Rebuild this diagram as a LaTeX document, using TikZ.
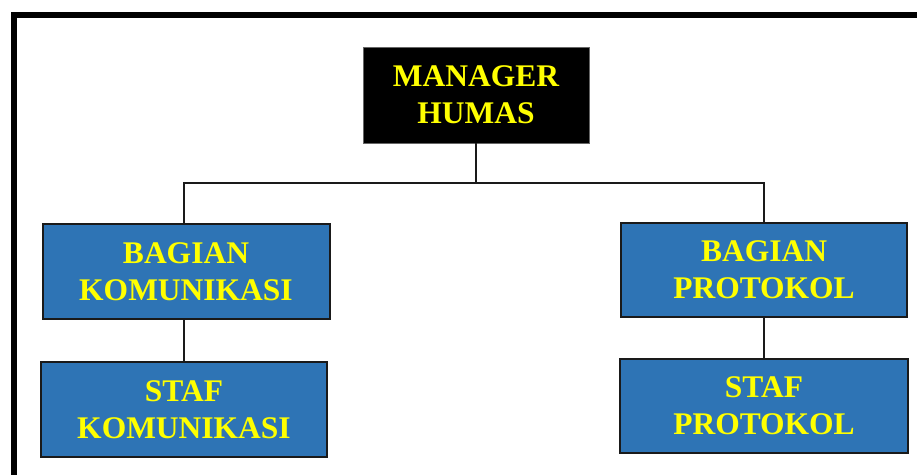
\documentclass[tikz,border=0pt]{standalone}
\usepackage{fontspec}
\setmainfont{Liberation Serif}
\definecolor{unitblue}{HTML}{2E74B5}
\definecolor{labelyellow}{HTML}{FFFF00}
\definecolor{edgedark}{HTML}{1A1A1A}
\begin{document}
\begin{tikzpicture}[x=1pt,y=-1pt,
  unitbox/.style={draw=edgedark, line width=2pt, fill=unitblue, text=labelyellow,
    inner sep=0pt, outer sep=0pt, align=center,
    font=\fontsize{31.5}{37}\selectfont\bfseries},
  headbox/.style={unitbox, fill=black, draw=black!60, line width=1pt},
  link/.style={draw=edgedark, line width=2pt}]
  \useasboundingbox (0,0) rectangle (917,475);
  \fill[white] (0,0) rectangle (917,475);
  % page frame (top and left edges)
  \fill[black] (11,12) rectangle (917,18);
  \fill[black] (11,12) rectangle (17,475);

  \node[headbox, minimum width=226pt, minimum height=96pt] (mgr) at (476,95) {MANAGER\\HUMAS};
  \node[unitbox, minimum width=287pt, minimum height=95pt] (bk) at (186,271.5) {BAGIAN\\KOMUNIKASI};
  \node[unitbox, minimum width=286pt, minimum height=95pt] (sk) at (184,409.5) {STAF\\KOMUNIKASI};
  \node[unitbox, minimum width=286pt, minimum height=94pt] (bp) at (764,270) {BAGIAN\\PROTOKOL};
  \node[unitbox, minimum width=288pt, minimum height=94pt] (sp) at (764,406) {STAF\\PROTOKOL};

  \coordinate (bar) at (0,183);
  \draw[link] (mgr.south) -- (mgr.south |- bar);
  \draw[link] (sk.north |- bk.north) -- (sk.north |- bar) -- (bp.north |- bar) -- (bp.north);
  \draw[link] (sk.north |- bk.south) -- (sk.north);
  \draw[link] (bp.south) -- (sp.north);
\end{tikzpicture}
\end{document}
